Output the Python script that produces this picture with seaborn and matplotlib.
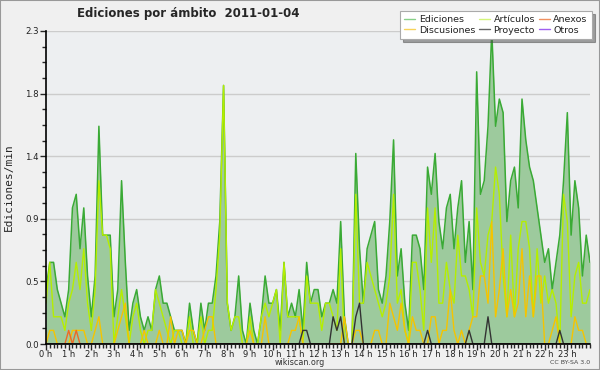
import numpy as np
import pandas as pd
import matplotlib
matplotlib.use('Agg')
import matplotlib.pyplot as plt
from matplotlib.patches import Rectangle
from matplotlib.lines import Line2D
import seaborn as sns

# ediciones por minuto, intervalos de 10 minutos (0h00 .. 24h00)
ediciones = [0.4, 0.6, 0.6, 0.4, 0.3, 0.2, 0.4, 1.0, 1.1, 0.7, 1.0, 0.5,
             0.2, 0.5, 1.6, 0.8, 0.8, 0.8, 0.2, 0.4, 1.2, 0.6, 0.1, 0.3,
             0.4, 0.2, 0.1, 0.2, 0.1, 0.4, 0.5, 0.3, 0.3, 0.2, 0.1, 0.1,
             0.1, 0.0, 0.3, 0.1, 0.0, 0.3, 0.1, 0.3, 0.3, 0.5, 0.9, 1.9,
             0.3, 0.1, 0.2, 0.5, 0.1, 0.0, 0.3, 0.1, 0.0, 0.2, 0.5, 0.3,
             0.3, 0.4, 0.1, 0.6, 0.2, 0.3, 0.2, 0.4, 0.1, 0.6, 0.3, 0.4,
             0.4, 0.2, 0.3, 0.3, 0.4, 0.3, 0.9, 0.2, 0.0, 0.0, 1.4, 0.7,
             0.3, 0.7, 0.8, 0.9, 0.4, 0.3, 0.5, 0.9, 1.5, 0.5, 0.7, 0.3,
             0.1, 0.8, 0.8, 0.7, 0.4, 1.3, 1.1, 1.4, 0.9, 0.7, 1.0, 1.1,
             0.7, 1.0, 1.2, 0.6, 0.9, 0.4, 2.0, 1.1, 1.2, 1.6, 2.3, 1.6,
             1.8, 1.7, 0.9, 1.2, 1.3, 1.0, 1.8, 1.5, 1.3, 1.2, 1.0, 0.8,
             0.6, 0.7, 0.4, 0.6, 0.8, 1.2, 1.7, 0.8, 1.2, 1.0, 0.5, 0.8,
             0.6]
articulos = [0.3, 0.6, 0.2, 0.2, 0.2, 0.1, 0.3, 0.4, 0.6, 0.4, 0.7, 0.3,
             0.1, 0.4, 1.2, 0.8, 0.8, 0.7, 0.0, 0.2, 0.4, 0.2, 0.0, 0.2,
             0.3, 0.1, 0.0, 0.1, 0.1, 0.4, 0.3, 0.2, 0.1, 0.0, 0.1, 0.1,
             0.0, 0.0, 0.2, 0.0, 0.0, 0.2, 0.0, 0.1, 0.1, 0.4, 0.8, 1.9,
             0.3, 0.1, 0.2, 0.2, 0.0, 0.0, 0.2, 0.0, 0.0, 0.2, 0.3, 0.2,
             0.3, 0.4, 0.0, 0.6, 0.2, 0.2, 0.2, 0.2, 0.0, 0.5, 0.3, 0.3,
             0.3, 0.1, 0.3, 0.3, 0.2, 0.1, 0.7, 0.0, 0.0, 0.0, 1.1, 0.3,
             0.3, 0.6, 0.5, 0.4, 0.3, 0.2, 0.3, 0.5, 1.1, 0.3, 0.4, 0.1,
             0.0, 0.6, 0.6, 0.4, 0.1, 1.0, 0.6, 1.0, 0.3, 0.3, 0.6, 0.4,
             0.3, 0.8, 0.5, 0.5, 0.4, 0.2, 1.0, 0.6, 0.5, 0.8, 0.9, 1.3,
             1.1, 0.5, 0.2, 0.8, 0.2, 0.7, 0.9, 0.9, 0.7, 0.2, 0.7, 0.3,
             0.5, 0.3, 0.4, 0.3, 0.0, 1.1, 0.9, 0.2, 0.5, 0.6, 0.3, 0.3,
             0.4]
discusiones = [0.0, 0.1, 0.1, 0.0, 0.0, 0.0, 0.0, 0.1, 0.1, 0.1, 0.1, 0.0,
               0.0, 0.1, 0.2, 0.0, 0.0, 0.0, 0.0, 0.1, 0.2, 0.3, 0.0, 0.0,
               0.0, 0.0, 0.1, 0.0, 0.0, 0.0, 0.1, 0.0, 0.0, 0.2, 0.0, 0.1,
               0.1, 0.0, 0.1, 0.1, 0.0, 0.0, 0.1, 0.2, 0.2, 0.0, 0.0, 0.0,
               0.0, 0.0, 0.0, 0.0, 0.0, 0.0, 0.1, 0.0, 0.0, 0.0, 0.2, 0.0,
               0.0, 0.0, 0.0, 0.0, 0.0, 0.1, 0.1, 0.2, 0.0, 0.0, 0.0, 0.0,
               0.0, 0.0, 0.0, 0.0, 0.0, 0.0, 0.0, 0.2, 0.0, 0.0, 0.1, 0.1,
               0.0, 0.0, 0.0, 0.1, 0.1, 0.0, 0.0, 0.3, 0.2, 0.1, 0.3, 0.1,
               0.0, 0.2, 0.1, 0.1, 0.0, 0.0, 0.2, 0.2, 0.0, 0.1, 0.1, 0.4,
               0.1, 0.0, 0.1, 0.0, 0.1, 0.2, 0.2, 0.5, 0.5, 0.3, 0.9, 0.2,
               0.4, 0.7, 0.2, 0.4, 0.2, 0.3, 0.7, 0.2, 0.5, 0.2, 0.5, 0.5,
               0.0, 0.0, 0.1, 0.2, 0.0, 0.0, 0.0, 0.0, 0.2, 0.1, 0.1, 0.0,
               0.0]
# series casi vacias: (intervalo, valor)
anexos_pts = {6: 0.1, 8: 0.1}
proyecto_pts = {68: 0.1, 69: 0.1, 76: 0.2, 77: 0.1, 78: 0.2, 82: 0.2,
                83: 0.3, 101: 0.1, 112: 0.1, 117: 0.2, 136: 0.1}

horas = np.arange(len(ediciones)) / 6
anexos = np.zeros(len(horas))
for k, v in anexos_pts.items():
    anexos[k] = v
proyecto = np.zeros(len(horas))
for k, v in proyecto_pts.items():
    proyecto[k] = v
otros = np.zeros(len(horas))

colores = {
    'Ediciones': '#3aaa35',
    'Artículos': '#b5ee00',
    'Discusiones': '#f5c400',
    'Anexos': '#ee6a25',
    'Proyecto': '#333333',
    'Otros': '#9b4dea',
}
colores_leyenda = {
    'Ediciones': '#88d088',
    'Artículos': '#d4f57a',
    'Discusiones': '#f7d35a',
    'Anexos': '#f09060',
    'Proyecto': '#666666',
    'Otros': '#a060f0',
}

sns.set_style('ticks')
plt.rcParams['font.family'] = ['DejaVu Sans']

fig = plt.figure(figsize=(6, 3.7), dpi=100, facecolor='#f0f0f0')
ax = fig.add_axes([46 / 600, 1 - 344 / 370, 544 / 600, 313 / 370])
ax.set_facecolor('#edeff1')

ax.fill_between(horas, ediciones, 0, color='#9dca9d', lw=0, zorder=1)
sns.lineplot(x=horas, y=ediciones, ax=ax, color=colores['Ediciones'], lw=1.1)
sns.lineplot(x=horas, y=articulos, ax=ax, color=colores['Artículos'], lw=1.0)
sns.lineplot(x=horas, y=discusiones, ax=ax, color=colores['Discusiones'], lw=1.0)
sns.lineplot(x=horas, y=anexos, ax=ax, color=colores['Anexos'], lw=1.0)
sns.lineplot(x=horas, y=proyecto, ax=ax, color=colores['Proyecto'], lw=1.0)
sns.lineplot(x=horas, y=otros, ax=ax, color=colores['Otros'], lw=1.0)

ax.set_xlim(0, 24)
ax.set_ylim(0, 2.3)

yt = np.linspace(0, 2.3, 6)
ax.set_yticks(yt)
ax.set_yticklabels(['%.1f' % v for v in yt], fontsize=6.2, color='#222222')
ax.set_yticks(np.linspace(0, 2.3, 21), minor=True)
ax.yaxis.grid(True, color='#cccccc', lw=1)
ax.set_axisbelow(True)

ax.set_xticks(range(24))
ax.set_xticklabels(['%d h' % h for h in range(24)], fontsize=6, color='#222222')
ax.set_xticks(np.arange(0, 24.01, 1 / 6), minor=True)
ax.tick_params(axis='x', which='major', length=4, width=1, pad=0.5)
ax.tick_params(axis='x', which='minor', length=3, width=1)
ax.tick_params(axis='y', which='major', length=4, width=1, pad=1)
ax.tick_params(axis='y', which='minor', length=3, width=1)

sns.despine(ax=ax)
for s in ['left', 'bottom']:
    ax.spines[s].set_color('black')
    ax.spines[s].set_linewidth(1.2)

ax.set_xlabel('')
ax.set_ylabel('Ediciones/min', family='DejaVu Sans Mono', fontsize=8, labelpad=8)

fig.text(188 / 600, 1 - 14 / 370, 'Ediciones por ámbito  2011-01-04',
         ha='center', va='center', fontsize=8.5, fontweight='bold')
fig.text(300 / 600, 1 - 362.5 / 370, 'wikiscan.org', ha='center', va='center',
         fontsize=5.8, color='#333333')
fig.text(590 / 600, 1 - 362.5 / 370, 'CC BY-SA 3.0', ha='right', va='center',
         fontsize=4.5, color='#444444')

orden = ['Ediciones', 'Discusiones', 'Artículos', 'Proyecto', 'Anexos', 'Otros']
handles = [Line2D([], [], color=colores_leyenda[n], lw=1) for n in orden]
leg = fig.legend(handles, orden, loc='upper right', ncol=3,
                 bbox_to_anchor=(592 / 600, 1 - 11 / 370), fontsize=6.8,
                 frameon=True, fancybox=False, shadow=True, handlelength=1.2,
                 handletextpad=0.35, columnspacing=0.4, labelspacing=0.15,
                 borderpad=0.45, borderaxespad=0)
leg.get_frame().set_edgecolor('#aaaaaa')
leg.get_frame().set_facecolor('white')
leg.get_frame().set_linewidth(0.8)
for t in leg.get_texts():
    t.set_color('#222222')

fig.patches.append(Rectangle((0, 0), 1, 1, transform=fig.transFigure,
                             fill=False, edgecolor='#999999', lw=1.5))

fig.savefig('out.png', dpi=100, facecolor=fig.get_facecolor())
